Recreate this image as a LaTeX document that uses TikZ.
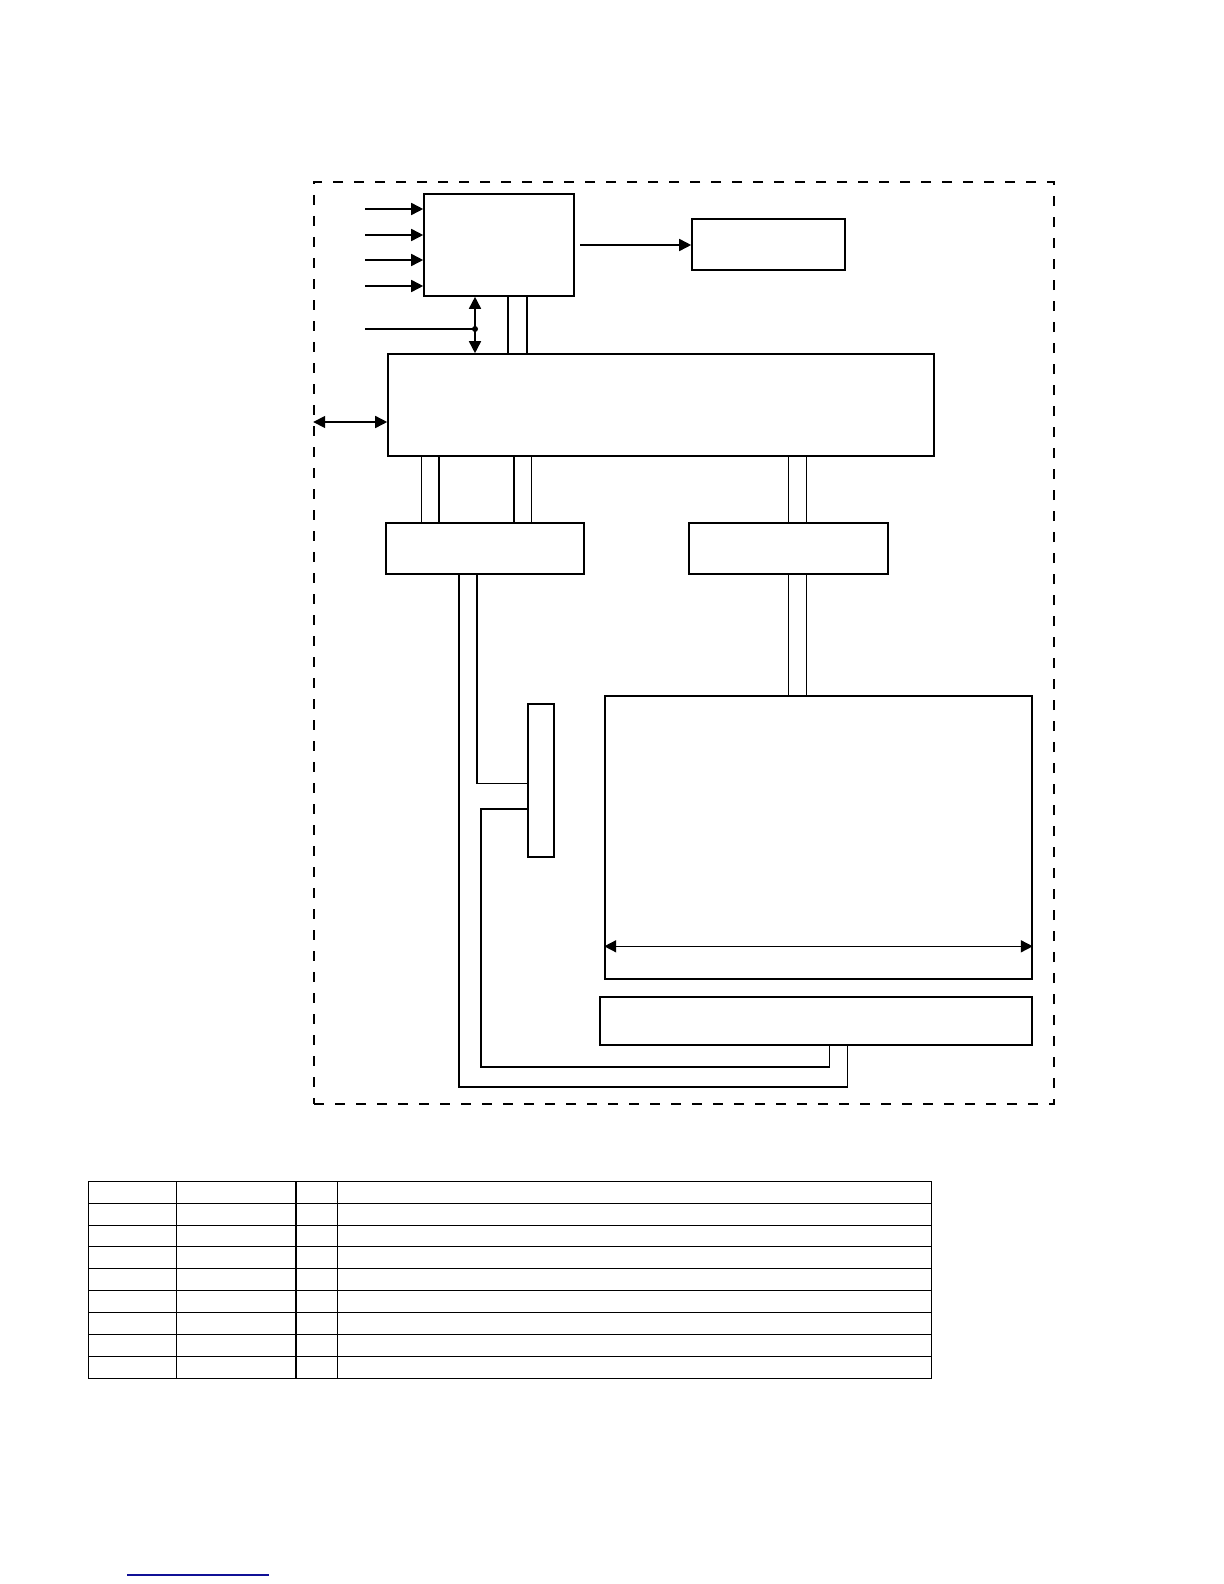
\documentclass[tikz,border=0pt]{standalone}
\usetikzlibrary{arrows.meta}
\definecolor{linkblue}{RGB}{16,16,150}
\tikzset{
  blk/.style={draw, line width=0.8pt, inner sep=0pt},
  wire/.style={line width=0.8pt},
  >={Triangle[length=6pt,width=6pt]}
}
\begin{document}
\begin{tikzpicture}[x=0.5pt,y=-0.5pt,line join=miter]
      \useasboundingbox (0,0) rectangle (1224,1584);
      % outer frame
      \node[draw, dashed, dash pattern=on 5pt off 5.5pt, line width=0.8pt,
            inner sep=0pt, minimum width=370pt, minimum height=461pt] (frame) at (684,643) {};
      % blocks
      \node[blk, minimum width=75pt, minimum height=51pt] (ctrl) at (499,245) {};
      \node[blk, minimum width=76.5pt, minimum height=25.5pt] (aux) at (768.5,244.5) {};
      \node[blk, minimum width=273pt, minimum height=51pt] (main) at (661,405) {};
      \node[blk, minimum width=99pt, minimum height=25.5pt] (boxA) at (485,548.5) {};
      \node[blk, minimum width=99.5pt, minimum height=25.5pt] (boxB) at (788.5,548.5) {};
      \node[blk, minimum width=13pt, minimum height=76.5pt] (slot) at (541,780.5) {};
      \node[blk, minimum width=213.5pt, minimum height=141.5pt] (disp) at (818.5,837.5) {};
      \node[blk, minimum width=216pt, minimum height=24pt] (lower) at (816,1021) {};
      % free ends
      \coordinate (in1) at (365,209);
      \coordinate (in2) at (365,235);
      \coordinate (in3) at (365,260);
      \coordinate (in4) at (365,286);
      \coordinate (in5) at (365,329);
      \coordinate (out) at (580,245);
      \coordinate (vx) at ([xshift=-12pt]ctrl.south);
      \coordinate (lft) at ([yshift=-8.5pt]main.west);
      \begin{scope}[wire]
        \draw[->] (in1) -- (in1 -| ctrl.west);
        \draw[->] (in2) -- (in2 -| ctrl.west);
        \draw[->] (in3) -- (in3 -| ctrl.west);
        \draw[->] (in4) -- (in4 -| ctrl.west);
        \draw[->] (out) -- (out -| aux.west);
        \draw[<->] (vx) -- (vx |- main.north);
        \draw (in5) -- (vx |- in5);
        \fill (vx |- in5) circle (1.5pt);
        \draw[<->] (lft -| frame.west) -- (lft);
        % buses
        \draw ([xshift=4.5pt]ctrl.south) -- ([xshift=4.5pt]ctrl.south |- main.north);
        \draw ([xshift=14pt]ctrl.south) -- ([xshift=14pt]ctrl.south |- main.north);
        \draw ([xshift=-31.7pt]boxA.north) -- ([xshift=-31.7pt]boxA.north |- main.south);
        \draw ([xshift=-22.9pt]boxA.north) -- ([xshift=-22.9pt]boxA.north |- main.south);
        \draw ([xshift=14.4pt]boxA.north) -- ([xshift=14.4pt]boxA.north |- main.south);
        \draw ([xshift=23.2pt]boxA.north) -- ([xshift=23.2pt]boxA.north |- main.south);
        \draw ([xshift=0pt]boxB.north) -- ([xshift=0pt]boxB.north |- main.south);
        \draw ([xshift=9pt]boxB.north) -- ([xshift=9pt]boxB.north |- main.south);
        \draw ([xshift=0pt]boxB.south) -- ([xshift=0pt]boxB.south |- disp.north);
        \draw ([xshift=9pt]boxB.south) -- ([xshift=9pt]boxB.south |- disp.north);
        % lines to slot and lower block
        \draw ([xshift=-3.9pt]boxA.south) |- ([yshift=-1.4pt]slot.west);
        \draw ([xshift=-12.9pt]boxA.south) |- ([xshift=15.8pt,yshift=-20.5pt]lower.south)
          -- ([xshift=15.8pt]lower.south);
        \draw ([yshift=-14.1pt]slot.west) -- ++(-23pt,0)
          |- ([xshift=6.7pt,yshift=-10.5pt]lower.south) -- ([xshift=6.7pt]lower.south);
        \draw[<->] ([yshift=-54.4pt]disp.west) -- ([yshift=-54.4pt]disp.east);
      \end{scope}
      % table
      \begin{scope}[wire]
        \draw (88.3,1181.3) rectangle (931.3,1378.3);
        \draw (88.3,1203.3) -- (931.3,1203.3);
        \draw (88.3,1225.3) -- (931.3,1225.3);
        \draw (88.3,1246.3) -- (931.3,1246.3);
        \draw (88.3,1268.3) -- (931.3,1268.3);
        \draw (88.3,1290.3) -- (931.3,1290.3);
        \draw (88.3,1312.3) -- (931.3,1312.3);
        \draw (88.3,1334.3) -- (931.3,1334.3);
        \draw (88.3,1356.3) -- (931.3,1356.3);
        \draw (176.3,1181.3) -- (176.3,1378.3);
        \draw (295.7,1181.3) -- (295.7,1378.3);
        \draw (337.3,1181.3) -- (337.3,1378.3);
      \end{scope}
      \draw[linkblue, line width=0.8pt] (127,1575) -- (269,1575);
    \end{tikzpicture}
\end{document}
